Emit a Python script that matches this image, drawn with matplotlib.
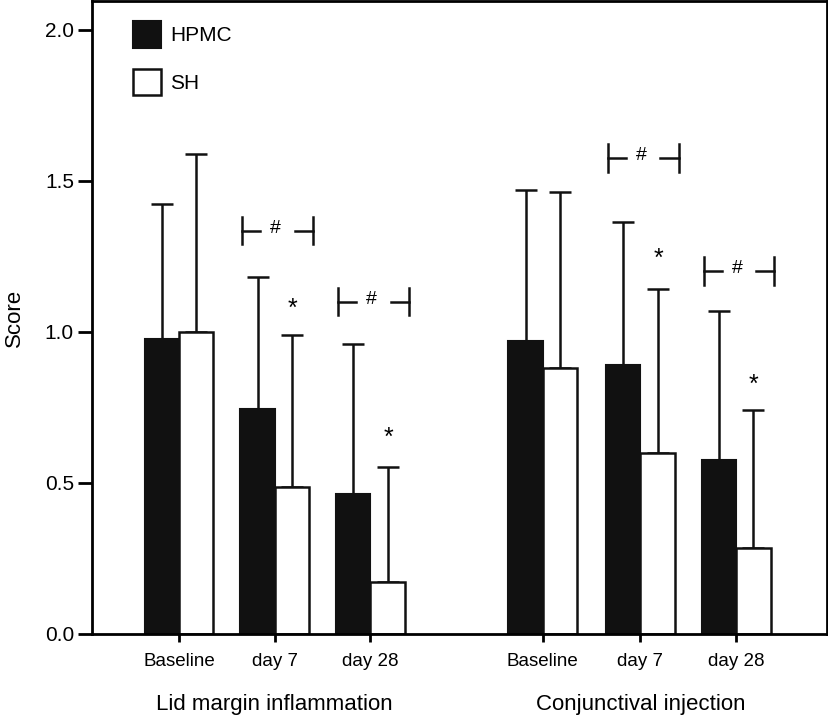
import matplotlib.pyplot as plt
import numpy as np

plt.rcParams['font.family'] = ['Liberation Sans', 'DejaVu Sans']

days = ["Baseline", "day 7", "day 28"]
groups = ["Lid margin inflammation", "Conjunctival injection"]

# means
hpmc_lid = [0.977, 0.745, 0.464]
sh_lid = [1.00, 0.487, 0.172]
hpmc_conj = [0.969, 0.890, 0.576]
sh_conj = [0.881, 0.599, 0.286]

# upper error (SD)
hpmc_lid_err = [0.447, 0.437, 0.496]
sh_lid_err = [0.590, 0.503, 0.381]
hpmc_conj_err = [0.502, 0.474, 0.494]
sh_conj_err = [0.581, 0.542, 0.456]

# significance marks: (x, y)
hash_marks = [(1.0, 1.335), (2.0, 1.10), (4.82, 1.576), (5.82, 1.202)]
star_marks = [(1.19, 1.096), (2.19, 0.668), (5.01, 1.262), (6.0, 0.845)]

x = np.array([0, 1, 2, 3.8, 4.82, 5.82])
hpmc = hpmc_lid + hpmc_conj
sh = sh_lid + sh_conj
hpmc_err = hpmc_lid_err + hpmc_conj_err
sh_err = sh_lid_err + sh_conj_err

w = 0.36
fig = plt.figure(figsize=(8.29, 7.17), dpi=100)
ax = fig.add_axes([0.111, 0.1158, 0.8866, 0.8828])

ax.bar(x - w/2, hpmc, w, color='#111111', edgecolor='#111111', linewidth=1.5, label='HPMC', zorder=2)
ax.bar(x + w/2, sh, w, color='white', edgecolor='#111111', linewidth=1.8, label='SH', zorder=2)
ax.errorbar(x - w/2, hpmc, yerr=[np.zeros(6), hpmc_err], fmt='none', ecolor='#111111',
            elinewidth=1.8, capsize=8, capthick=1.8, zorder=1)
ax.errorbar(x + w/2, sh, yerr=[np.zeros(6), sh_err], fmt='none', ecolor='#111111',
            elinewidth=1.8, capsize=8, capthick=1.8, zorder=1)

# brackets with #
for cx, cy in hash_marks:
    l, r = cx - 0.34, cx + 0.40
    h = 0.045
    ax.plot([l, l], [cy - h, cy + h], color='#111111', lw=1.8)
    ax.plot([l, l + 0.19], [cy, cy], color='#111111', lw=1.8)
    ax.plot([r, r], [cy - h, cy + h], color='#111111', lw=1.8)
    ax.plot([r - 0.19, r], [cy, cy], color='#111111', lw=1.8)
    ax.text((l + r) / 2 - 0.02, cy + 0.008, '#', ha='center', va='center', fontsize=14)

for sx, sy in star_marks:
    ax.text(sx, sy - 0.02, '*', ha='center', va='center', fontsize=18)

ax.set_xlim(-0.909, 6.77)
ax.set_ylim(0, 2.096)
ax.set_yticks([0, 0.5, 1.0, 1.5, 2.0])
ax.set_yticklabels(['0.0', '0.5', '1.0', '1.5', '2.0'], fontsize=15)
ax.set_xticks(x)
ax.set_xticklabels(days * 2, fontsize=13.5)
ax.tick_params(axis='y', length=10, width=2, direction='out', pad=3)
ax.tick_params(axis='x', length=6, width=2, direction='out', pad=8)
for s in ax.spines.values():
    s.set_linewidth(2)
ax.set_ylabel('Score', fontsize=16, labelpad=14)

for gx, g in zip([x[1], x[4]], groups):
    ax.text(gx, -0.235, g, ha='center', va='center', fontsize=16, transform=ax.transData)

ax.legend(loc='upper left', bbox_to_anchor=(0.03, 0.998), frameon=False, fontsize=15,
          handlelength=1.35, handleheight=1.6, labelspacing=1.0, handletextpad=0.45)

fig.savefig('out.png', dpi=100)
